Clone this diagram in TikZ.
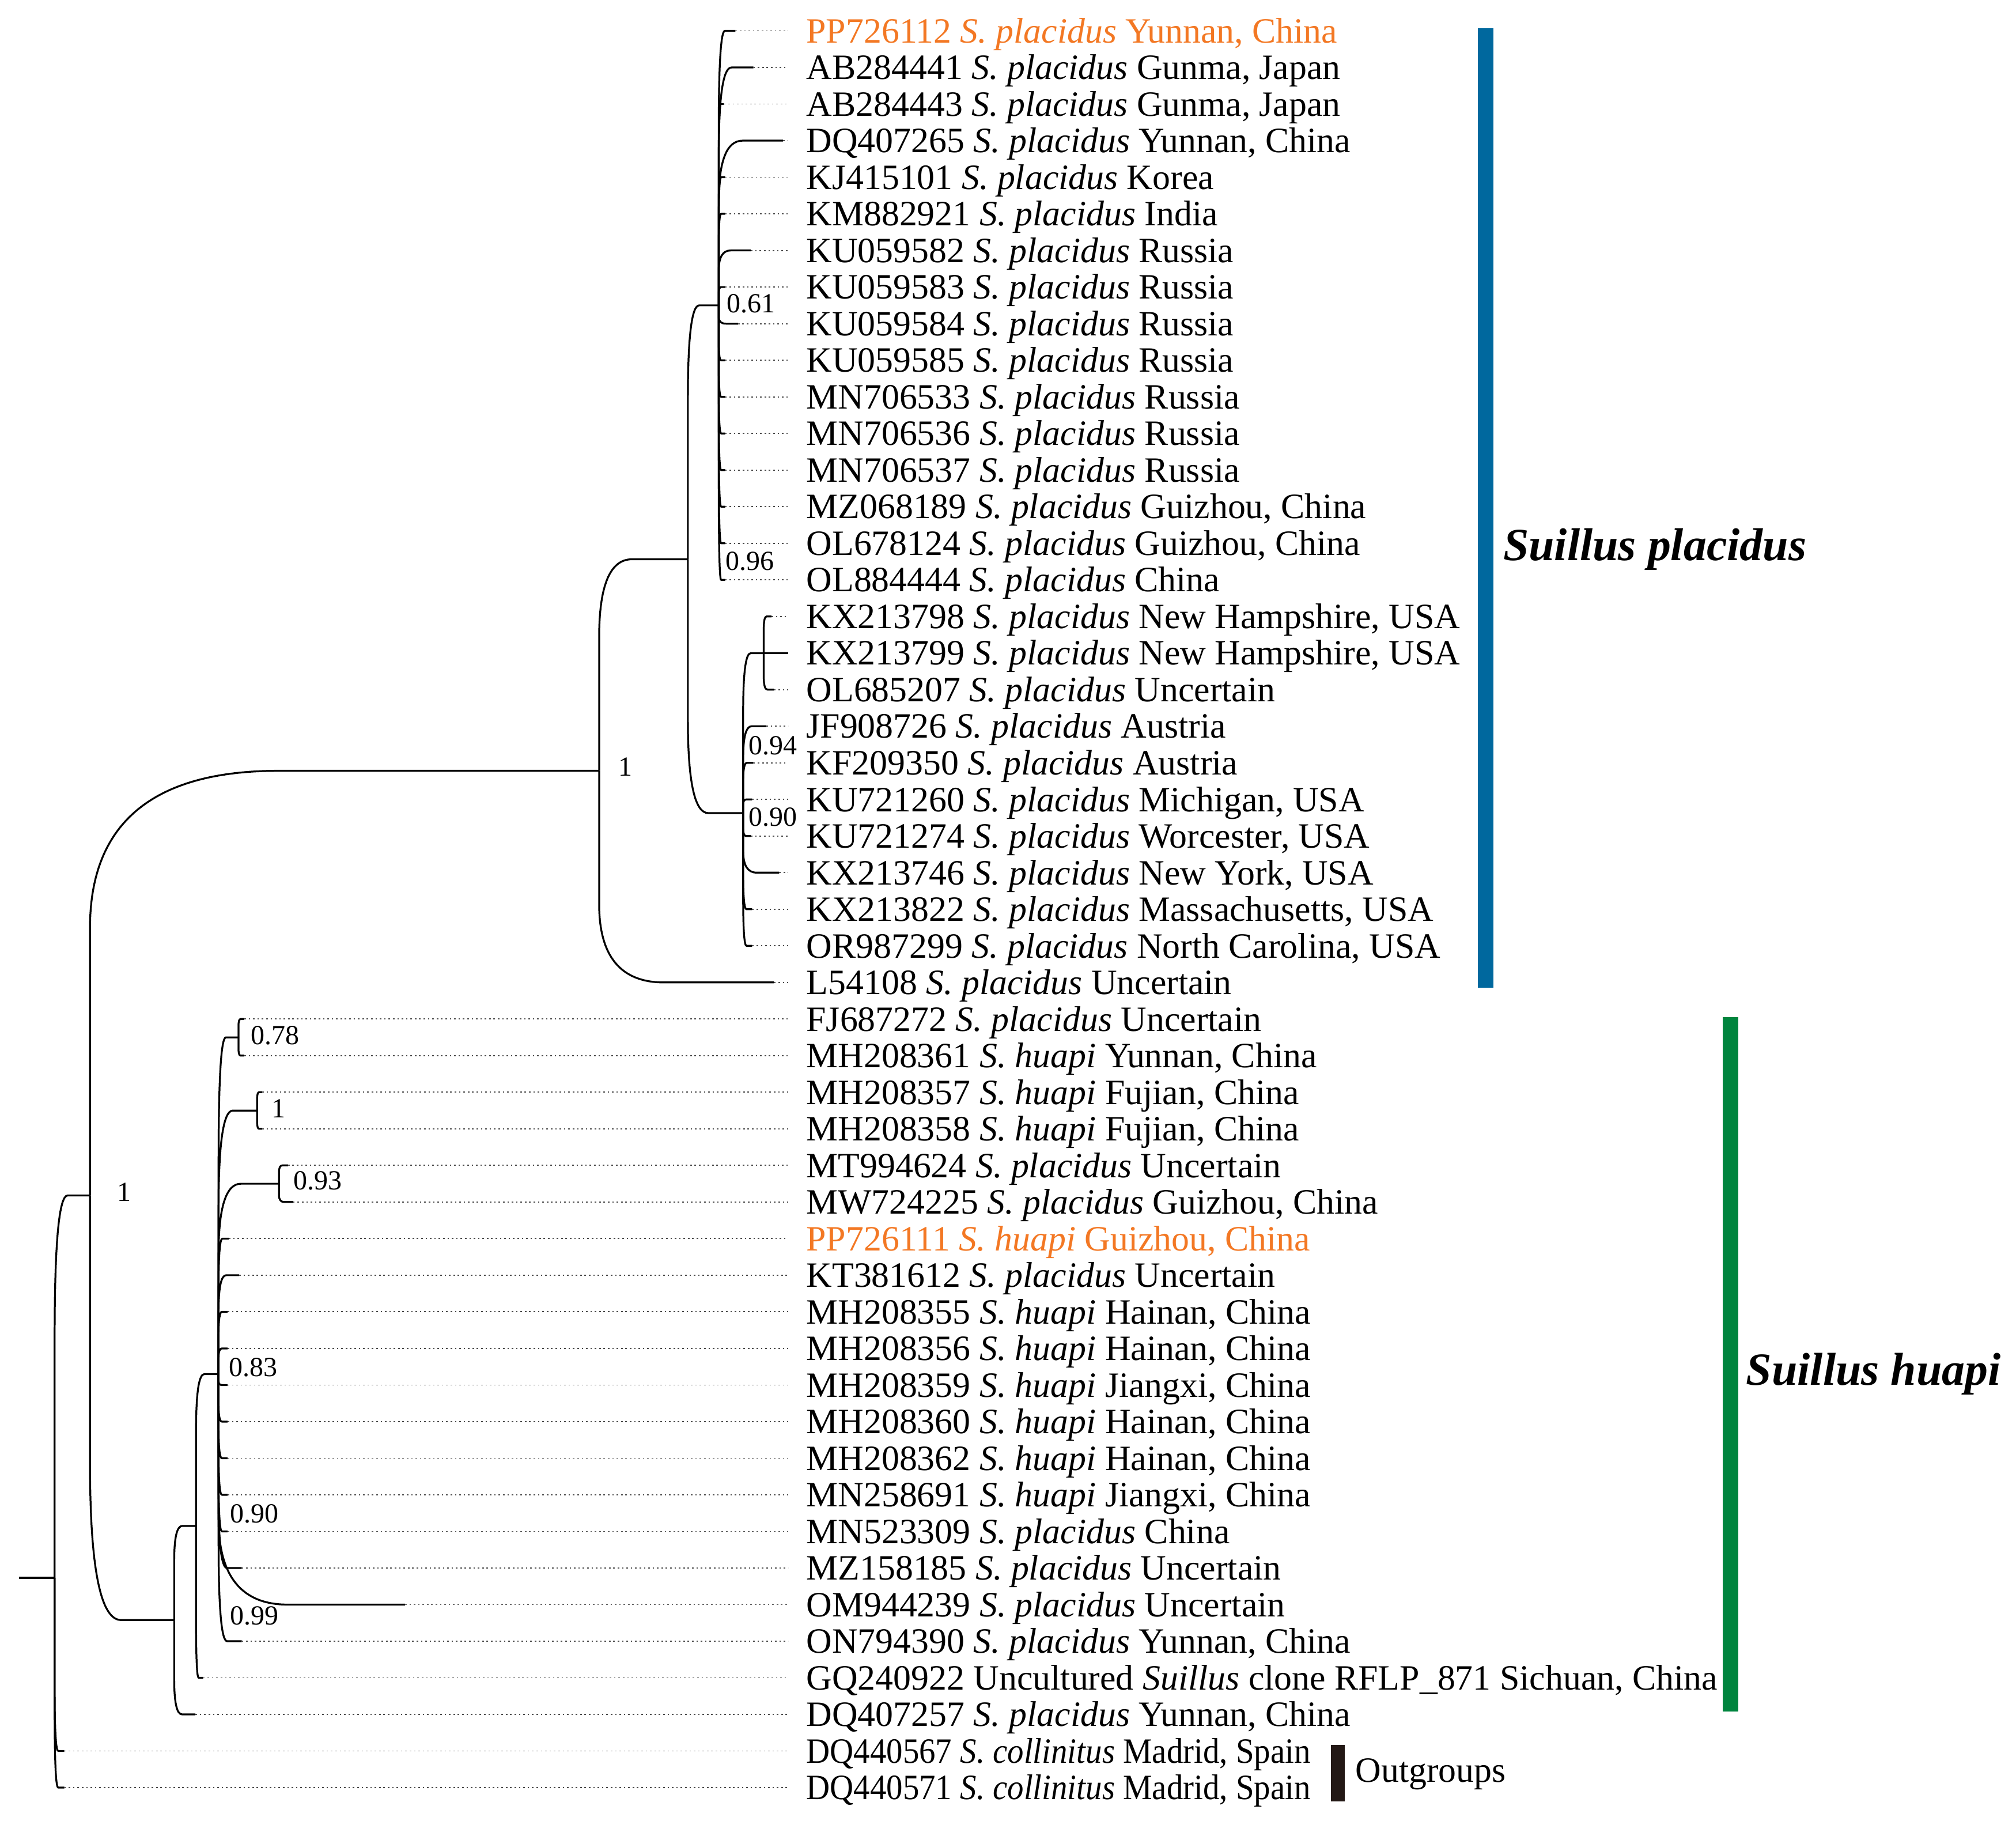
\documentclass[tikz,border=0pt]{standalone}
\usepackage{fontspec}
\setmainfont{Liberation Serif}
\usetikzlibrary{calc}
\definecolor{orangelab}{RGB}{243,120,36}
\definecolor{placblue}{RGB}{0,104,158}
\definecolor{huapigreen}{RGB}{0,133,62}
\definecolor{outdark}{RGB}{35,24,21}
\newcommand\cf{0.37}
% curved FigTree-style branch from parent coordinate #1 to child coordinate #2
\newcommand\Br[2]{\draw[branch] let \p1=(#1), \p2=(#2) in
  (\x1,\y1) -- (\x1,{\y2+\cf*(\y1-(\y2))})
  .. controls (\x1,{\y2+\cf*(\y1-(\y2))/3}) and ({\x1+\cf*(\x2-(\x1))/3},\y2) ..
  ({\x1+\cf*(\x2-(\x1))},\y2) -- (\x2,\y2);}
% leaf: [colour] index, tip x, parent, label
\newcommand\Leaf[5][black]{%
  \pgfmathsetmacro\ly{24+(#2-1)*28.46}%
  \coordinate (t#2) at (#3,\ly);
  \coordinate (d#2) at (613,\ly);
  \node[lab,text=#1] (l#2) at (627,\ly+9.3) {#5};
  \Br{#4}{t#2}
  \draw[dots] (t#2) -- (d#2);
}
\newcommand\Sp{\textit{S. placidus}}
\newcommand\Sh{\textit{S. huapi}}
\tikzset{
  branch/.style={line width=1.45pt, line join=round},
  dots/.style={line width=0.8pt, black!70, dash pattern=on 1.2pt off 2.2pt},
  lab/.style={anchor=base west, inner sep=0pt, font=\fontsize{27.7}{33}\selectfont},
  supp/.style={anchor=base west, inner sep=0pt, font=\fontsize{21.5}{25}\selectfont},
  cladename/.style={anchor=base west, inner sep=0pt, font=\fontsize{35.8}{40}\selectfont\bfseries\itshape},
}
\begin{document}
\begin{tikzpicture}[x=1pt,y=-1pt]
\useasboundingbox (0,0) rectangle (1568,1416);
% internal nodes
\coordinate (rootstem) at (15,1227);
\coordinate (root) at (42.5,1227);
\coordinate (A) at (70,929.6);
\coordinate (B) at (466,599.4);
\coordinate (C) at (535,434.9);
\coordinate (D) at (559,237.45);
\coordinate (E) at (578,632.3);
\coordinate (F) at (594,507.9);
\coordinate (I) at (135.5,1259.8);
\coordinate (J) at (152.5,1186.6);
\coordinate (K) at (170,1068.5);
\coordinate (L) at (185.5,806.7);
\coordinate (M) at (200,863.6);
\coordinate (N) at (217,920.5);
\draw[branch] (rootstem) -- (root);
\Br{root}{A}
\Br{A}{B}
\Br{A}{I}
\Br{B}{C}
\Br{C}{D}
\Br{C}{E}
\Br{E}{F}
\Br{I}{J}
\Br{J}{K}
\Br{K}{L}
\Br{K}{M}
\Br{K}{N}
% leaves
\Leaf[orangelab]{1}{572}{D}{PP726112 \Sp{} Yunnan, China}
\Leaf{2}{586}{D}{AB284441 \Sp{} Gunma, Japan}
\Leaf{3}{563}{D}{AB284443 \Sp{} Gunma, Japan}
\Leaf{4}{609}{D}{DQ407265 \Sp{} Yunnan, China}
\Leaf{5}{564}{D}{KJ415101 \Sp{} Korea}
\Leaf{6}{564}{D}{KM882921 \Sp{} India}
\Leaf{7}{584}{D}{KU059582 \Sp{} Russia}
\Leaf{8}{564}{D}{KU059583 \Sp{} Russia}
\Leaf{9}{574}{D}{KU059584 \Sp{} Russia}
\Leaf{10}{564}{D}{KU059585 \Sp{} Russia}
\Leaf{11}{564}{D}{MN706533 \Sp{} Russia}
\Leaf{12}{564}{D}{MN706536 \Sp{} Russia}
\Leaf{13}{564}{D}{MN706537 \Sp{} Russia}
\Leaf{14}{564}{D}{MZ068189 \Sp{} Guizhou, China}
\Leaf{15}{564}{D}{OL678124 \Sp{} Guizhou, China}
\Leaf{16}{564}{D}{OL884444 \Sp{} China}
\Leaf{17}{600}{F}{KX213798 \Sp{} New Hampshire, USA}
\Leaf{18}{613}{F}{KX213799 \Sp{} New Hampshire, USA}
\Leaf{19}{602}{F}{OL685207 \Sp{} Uncertain}
\Leaf{20}{596}{E}{JF908726 \Sp{} Austria}
\Leaf{21}{586}{E}{KF209350 \Sp{} Austria}
\Leaf{22}{585}{E}{KU721260 \Sp{} Michigan, USA}
\Leaf{23}{584}{E}{KU721274 \Sp{} Worcester, USA}
\Leaf{24}{606}{E}{KX213746 \Sp{} New York, USA}
\Leaf{25}{585}{E}{KX213822 \Sp{} Massachusetts, USA}
\Leaf{26}{585}{E}{OR987299 \Sp{} North Carolina, USA}
\Leaf{27}{602}{B}{L54108 \Sp{} Uncertain}
\Leaf{28}{190}{L}{FJ687272 \Sp{} Uncertain}
\Leaf{29}{190}{L}{MH208361 \Sh{} Yunnan, China}
\Leaf{30}{204}{M}{MH208357 \Sh{} Fujian, China}
\Leaf{31}{204}{M}{MH208358 \Sh{} Fujian, China}
\Leaf{32}{224}{N}{MT994624 \Sp{} Uncertain}
\Leaf{33}{228}{N}{MW724225 \Sp{} Guizhou, China}
\Leaf[orangelab]{34}{178}{K}{PP726111 \Sh{} Guizhou, China}
\Leaf{35}{186}{K}{KT381612 \Sp{} Uncertain}
\Leaf{36}{177}{K}{MH208355 \Sh{} Hainan, China}
\Leaf{37}{177}{K}{MH208356 \Sh{} Hainan, China}
\Leaf{38}{177}{K}{MH208359 \Sh{} Jiangxi, China}
\Leaf{39}{177}{K}{MH208360 \Sh{} Hainan, China}
\Leaf{40}{177}{K}{MH208362 \Sh{} Hainan, China}
\Leaf{41}{177}{K}{MN258691 \Sh{} Jiangxi, China}
\Leaf{42}{177}{K}{MN523309 \Sp{} China}
\Leaf{43}{188}{K}{MZ158185 \Sp{} Uncertain}
\Leaf{44}{315}{K}{OM944239 \Sp{} Uncertain}
\Leaf{45}{188}{K}{ON794390 \Sp{} Yunnan, China}
\Leaf{46}{158}{J}{GQ240922 Uncultured \textit{Suillus} clone RFLP\_871 Sichuan, China}
\Leaf{47}{152}{I}{DQ407257 \Sp{} Yunnan, China}
\Leaf{48}{50}{root}{\scalebox{0.92}[1]{DQ440567 \textit{S. collinitus} Madrid, Spain}}
\Leaf{49}{50}{root}{\scalebox{0.92}[1]{DQ440571 \textit{S. collinitus} Madrid, Spain}}
% support values
\node[supp] (s1) at (565,243.3) {0.61};
\node[supp] (s2) at (564,443.3) {0.96};
\node[supp] (s3) at (582,586.9) {0.94};
\node[supp] (s4) at (582,642.3) {0.90};
\node[supp] (s5) at (481,603.3) {1};
\node[supp] (s6) at (195,812.3) {0.78};
\node[supp] (s7) at (211,869.3) {1};
\node[supp] (s8) at (228,925.3) {0.93};
\node[supp] (s9) at (178,1070.3) {0.83};
\node[supp] (s10) at (179,1184.3) {0.90};
\node[supp] (s11) at (179,1263.3) {0.99};
\node[supp] (s12) at (91,934.3) {1};
% clade bars
\fill[placblue] (1149.5,22) rectangle (1161.5,768);
\fill[huapigreen] (1340,791) rectangle (1352,1331);
\fill[outdark] (1035,1357) rectangle (1046,1401);
\node[cladename] (nplac) at (1169,436) {Suillus placidus};
\node[cladename] (nhuapi) at (1358,1077) {Suillus huapi};
\node[lab] (nout) at (1054,1386) {Outgroups};
\end{tikzpicture}
\end{document}
